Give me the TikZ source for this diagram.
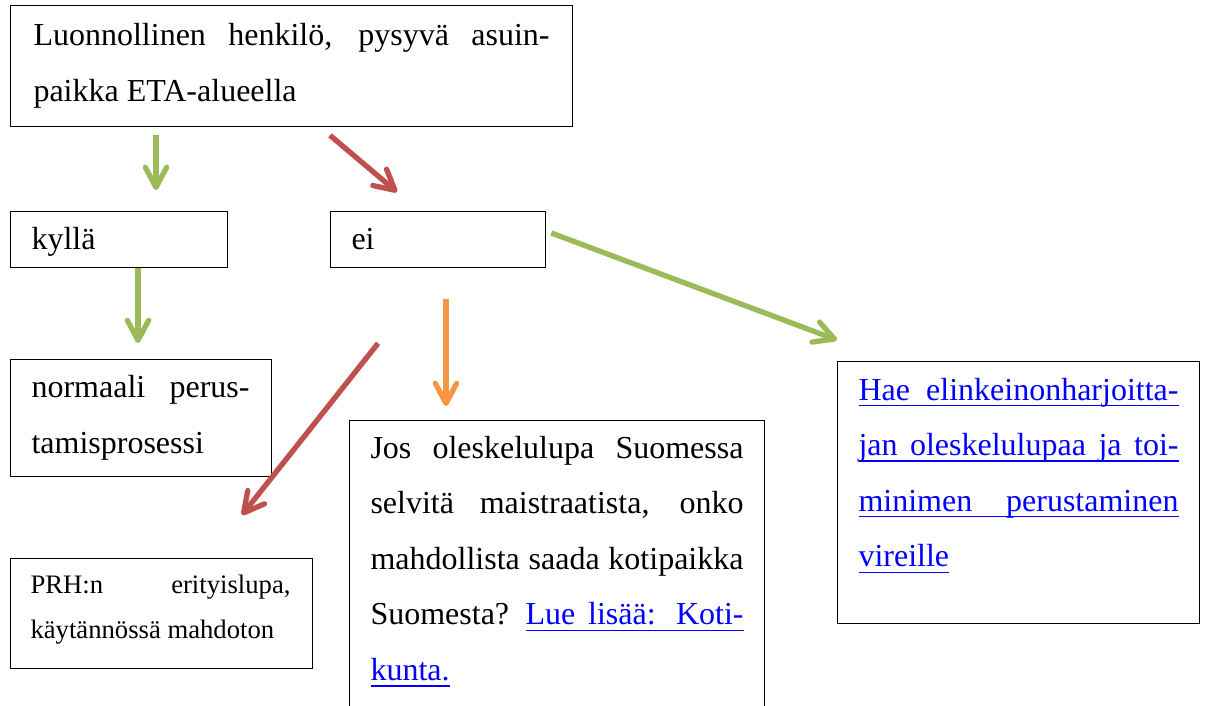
\documentclass[tikz,border=0pt]{standalone}
\usepackage{fontspec}
\setmainfont{Liberation Serif}
\usetikzlibrary{arrows.meta,calc}
\newlength\pxu
\setlength\pxu{0.375pt}
\definecolor{agreen}{HTML}{9BBB59}
\definecolor{ared}{HTML}{C0504D}
\definecolor{aorange}{HTML}{F79646}
\definecolor{linkblue}{HTML}{0000FF}
\newcommand\jline[2]{\makebox[#1\pxu][s]{#2}}
\newcommand\ulbox[1]{\leavevmode\setbox0\hbox{#1}\rlap{\rule[-2.3pt]{\wd0}{0.5pt}}\box0}
\newcommand\lnk[1]{\leavevmode{\color{linkblue}\ulbox{#1}}}
\tikzset{
  box/.style={draw=black, line width=0.5pt, rectangle, inner sep=0pt, anchor=north west},
  txt/.style={inner sep=0pt, anchor=base west, font=\fontsize{12}{20.85}\selectfont},
  stxt/.style={inner sep=0pt, anchor=base west, font=\fontsize{10}{16.9}\selectfont},
  conn/.style={line width=2pt, line cap=butt, -{Straight Barb[length=7.5pt,width=8pt,round]}},
}
\begin{document}
\begin{tikzpicture}[x=0.375pt, y=-0.375pt]
\useasboundingbox (0,0) rectangle (1208,706);
\clip (0,0) rectangle (1208,706);
% boxes
\node[box, minimum width=562\pxu, minimum height=121\pxu] (top) at (10,5) {};
\node[box, minimum width=217\pxu, minimum height=56\pxu] (kylla) at (10,211) {};
\node[box, minimum width=215\pxu, minimum height=56\pxu] (ei) at (330,211) {};
\node[box, minimum width=261\pxu, minimum height=117\pxu] (norm) at (10,359) {};
\node[box, minimum width=302\pxu, minimum height=110\pxu] (prh) at (10,558) {};
\node[box, minimum width=415\pxu, minimum height=300\pxu] (jos) at (349,420) {};
\node[box, minimum width=362\pxu, minimum height=262\pxu] (hae) at (837,361) {};
% texts
\node[txt] (top-t) at (33,46) {\parbox[t]{516\pxu}{\jline{516}{Luonnollinen henkilö, pysyvä asuin-}\\paikka ETA-alueella}};
\node[txt] (kylla-t) at (31,250) {kyllä};
\node[txt] (ei-t) at (351,250) {ei};
\node[txt] (norm-t) at (31,398) {\parbox[t]{218\pxu}{\jline{218}{normaali perus-}\\tamisprosessi}};
\node[stxt] (prh-t) at (30,593) {\parbox[t]{260\pxu}{\jline{260}{PRH:n erityislupa,}\\käytännössä mahdoton}};
\node[txt] (jos-t) at (370,458) {\parbox[t]{373\pxu}{%
\jline{373}{Jos oleskelulupa Suomessa}\\
\jline{373}{selvitä maistraatista, onko}\\
\jline{373}{mahdollista saada kotipaikka}\\
\jline{373}{Suomesta? \lnk{\jline{218}{Lue lisää: Koti-}}}\\
\lnk{kunta.}}};
\node[txt] (hae-t) at (858,400) {\parbox[t]{320\pxu}{%
\lnk{\jline{320}{Hae elinkeinonharjoitta-}}\\
\lnk{\jline{320}{jan oleskelulupaa ja toi-}}\\
\lnk{\jline{320}{minimen perustaminen}}\\
\lnk{vireille}}};
% connectors
\draw[conn, agreen] ($(top.south west)+(146,8)$) -- ($(kylla.north west)+(146,-21)$);
\draw[conn, ared] ($(top.south west)+(320,8)$) -- ($(ei.north west)+(67,-19)$);
\draw[conn, agreen] ($(kylla.south west)+(128,0)$) -- ($(norm.north west)+(128,-16)$);
\draw[conn, aorange] ($(ei.south west)+(116,31)$) -- ($(jos.north west)+(97,-14)$);
\draw[conn, ared] ($(ei.south west)+(48,75)$) -- ($(prh.north west)+(232,-43)$);
\draw[conn, agreen] ($(ei.north east)+(5,22)$) -- ($(hae.north west)+(0,-21)$);
\end{tikzpicture}
\end{document}
